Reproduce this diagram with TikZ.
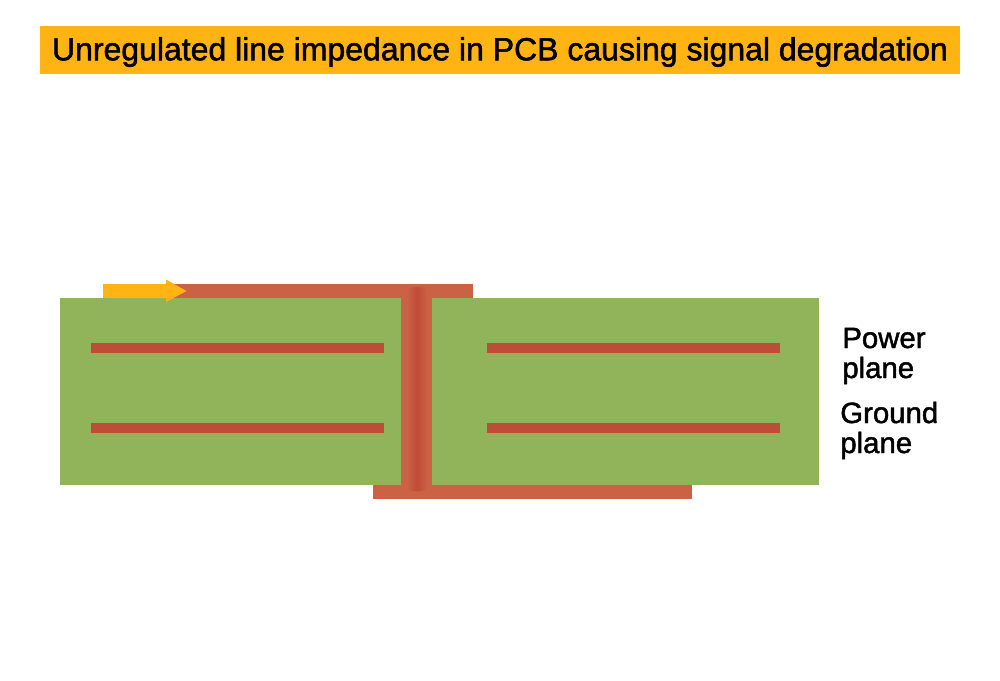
\documentclass[tikz,border=0pt]{standalone}
\usepackage{fontspec}
\setmainfont{Liberation Sans}
\newfontfamily\medfont[FakeBold=1.6]{Liberation Sans}
\definecolor{board}{HTML}{91B45B}
\definecolor{trace}{HTML}{CB6145}
\definecolor{plane}{HTML}{BF4C37}
\definecolor{amber}{HTML}{FFB414}
\tikzset{
	Trace/.style = {fill = trace},
	Plane/.style = {fill = plane},
	Label/.style = {anchor = base west, inner sep = 0pt, font = \medfont\fontsize{16.7}{17}\selectfont},
}

\begin{document}
\begin{tikzpicture}[x = 0.02cm, y = -0.02cm]
		
		\useasboundingbox (0,0) rectangle (1000,680);
		
		\fill[amber] (40,26) rectangle (960,74);
		\node[inner sep = 0pt, font = \medfont\fontsize{18.2}{19}\selectfont] (Title) at (500,52) {Unregulated line impedance in PCB causing signal degradation};
		
		\fill[Trace] (103,284) rectangle (473,298);
		\fill[Trace] (373,485) rectangle (692,499);
		\fill[board] (60,298) rectangle (819,485);
		\fill[Trace] (401,298) rectangle (432,491);
		\shade[left color = trace, right color = trace, middle color = plane, rounded corners = 3pt] (407,287) rectangle (427,491);
		
		\fill[Plane] (91,342.5) rectangle (384,353);
		\fill[Plane] (487.2,342.5) rectangle (780.2,353);
		\fill[Plane] (91,422.5) rectangle (384,433);
		\fill[Plane] (487.2,422.5) rectangle (780.2,433);
		
		\fill[amber] (103,284) -- (166,284) -- (166,279.5) -- (186.5,291) -- (166,302) -- (166,298) -- (103,298) -- cycle;
		
		\node[Label] (Power) at (842,348) {Power};
		\node[Label] (PowerB) at (842,378) {plane};
		\node[Label] (Ground) at (840,423) {Ground};
		\node[Label] (GroundB) at (840,453) {plane};
		
	\end{tikzpicture}
\end{document}
